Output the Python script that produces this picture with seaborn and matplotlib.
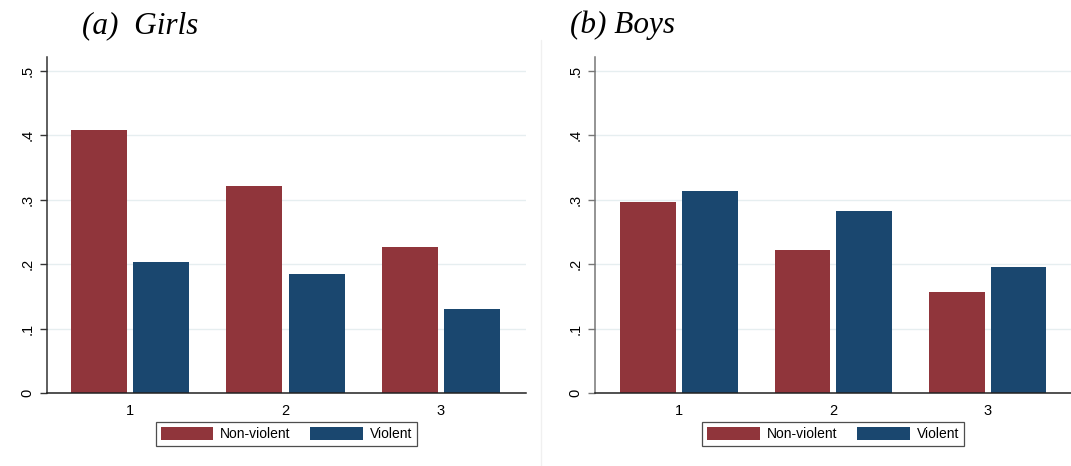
import numpy as np
import pandas as pd
import seaborn as sns
import matplotlib
matplotlib.use('Agg')
import matplotlib.pyplot as plt
from matplotlib.lines import Line2D

# 값
groups = ['1', '2', '3']
series = ['Non-violent', 'Violent']
girls_nonviolent = [0.408, 0.322, 0.227]
girls_violent = [0.204, 0.185, 0.131]
boys_nonviolent = [0.297, 0.222, 0.157]
boys_violent = [0.313, 0.282, 0.196]
yticks = [0, 0.1, 0.2, 0.3, 0.4, 0.5]
ytick_labels = ['0', '.1', '.2', '.3', '.4', '.5']
titles = ['(a)  Girls', '(b) Boys']

colors = {'Non-violent': '#90353b', 'Violent': '#1a476f'}


def make_df(nv, v):
    return pd.DataFrame({
        'group': groups * 2,
        'type': ['Non-violent'] * 3 + ['Violent'] * 3,
        'share': list(nv) + list(v),
    })


girls = make_df(girls_nonviolent, girls_violent)
boys = make_df(boys_nonviolent, boys_violent)

sns.set_style('white')
plt.rcParams['font.family'] = ['Liberation Sans', 'DejaVu Sans']
plt.rcParams['text.color'] = 'black'
plt.rcParams['xtick.color'] = 'black'
plt.rcParams['ytick.color'] = 'black'

fig = plt.figure(figsize=(10.71, 4.66), dpi=100)
W, H = 1071, 466
ax1 = fig.add_axes([47 / W, 1 - 393 / H, (526 - 47) / W, (393 - 56.7) / H])
ax2 = fig.add_axes([595 / W, 1 - 393 / H, (1071 - 595) / W, (393 - 56.7) / H])

for ax, df, spine_col, xlim in [(ax1, girls, '#333333', (-0.534, 2.547)),
                                (ax2, boys, '#777777', (-0.544, 2.54))]:
    sns.barplot(data=df, x='group', y='share', hue='type', order=groups,
                hue_order=series, palette=colors, width=0.8, gap=0.1,
                linewidth=0, saturation=1, ax=ax)
    ax.set_xlim(*xlim)
    ax.set_ylim(0, 0.522)
    ax.set_yticks(yticks)
    ax.set_yticklabels(ytick_labels, rotation=90, va='center')
    ax.set_xlabel('')
    ax.set_ylabel('')
    ax.yaxis.grid(True, color='#e6eef0', lw=1)
    ax.set_axisbelow(True)
    for s in ['top', 'right']:
        ax.spines[s].set_visible(False)
    ax.spines['left'].set_color(spine_col)
    ax.spines['bottom'].set_color('#222222')
    ax.spines['left'].set_linewidth(1.1)
    ax.spines['bottom'].set_linewidth(1.1)
    ax.tick_params(axis='y', left=True, length=5, width=1, color=spine_col,
                   pad=4, labelsize=10.5, labelcolor='black')
    ax.tick_params(axis='x', bottom=False, length=0, pad=8, labelsize=10.5,
                   labelcolor='black')
    handles, labels = ax.get_legend_handles_labels()
    leg = ax.legend(handles, labels, loc='upper center', bbox_to_anchor=(0.5, -0.086),
                    ncol=2, frameon=True, fancybox=False, fontsize=10,
                    handlelength=3.8, handleheight=1.1, handletextpad=0.5,
                    columnspacing=1.4, borderpad=0.35, borderaxespad=0)
    leg.get_frame().set_edgecolor('#222222')
    leg.get_frame().set_linewidth(0.9)
    for t in leg.get_texts():
        t.set_color('black')

# 패널 제목
fig.text(82 / W, 1 - 33 / H, titles[0], family=['Liberation Serif', 'DejaVu Serif'],
         style='italic', fontsize=22.5, va='baseline', ha='left', color='black')
fig.text(570 / W, 1 - 33 / H, titles[1], family=['Liberation Serif', 'DejaVu Serif'],
         style='italic', fontsize=22.5, va='baseline', ha='left', color='black')

# 패널 구분선
fig.add_artist(Line2D([541 / W, 541 / W], [0, 1 - 40 / H], color='#f0f0f0', lw=1))

fig.savefig('out.png', dpi=100)
